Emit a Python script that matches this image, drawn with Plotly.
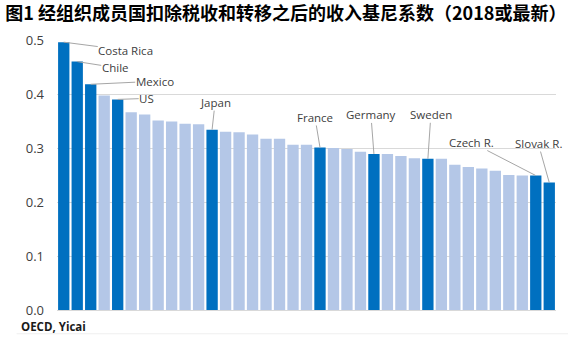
import plotly.graph_objects as go

# Gini coefficient of disposable income (after taxes and transfers), OECD members
gini = [0.496, 0.460, 0.418, 0.397, 0.390, 0.366, 0.362, 0.351, 0.349, 0.345,
        0.344, 0.334, 0.330, 0.329, 0.325, 0.317, 0.317, 0.306, 0.306, 0.301,
        0.300, 0.298, 0.293, 0.289, 0.289, 0.285, 0.281, 0.280, 0.280, 0.269,
        0.265, 0.262, 0.258, 0.250, 0.249, 0.249, 0.236]

# Highlighted countries (bar index -> name)
highlight_names = {0: "Costa Rica", 1: "Chile", 2: "Mexico", 4: "US",
                   11: "Japan", 19: "France", 23: "Germany", 27: "Sweden",
                   35: "Czech R.", 36: "Slovak R."}

y_ticks = [0.0, 0.1, 0.2, 0.3, 0.4, 0.5]
y_ticktext = ["0.0", "0.1", "0.2", "0.3", "0.4", "0.5"]

title_text = "图1 经组织成员国扣除税收和转移之后的收入基尼系数（2018或最新）"
source_text = "OECD, Yicai"

# label offsets (pixels) from the bar top to the label centre
label_offsets = {0: (62, 8), 1: (38, 6), 2: (64, -3), 4: (29, -1),
                 11: (3, -27), 19: (-5, -30), 23: (-3, -39), 27: (3, -44),
                 35: (-64, -33), 36: (-11, -39)}

DARK = "#0070C0"
LIGHT = "#B4C7E7"
TEXT = "#404040"
LEADER = "#A6A6A6"

x = list(range(len(gini)))
colors = [DARK if i in highlight_names else LIGHT for i in x]

fig = go.Figure(go.Bar(
    x=x, y=gini, marker=dict(color=colors, line=dict(width=0)),
    hoverinfo="skip",
))

for i, name in highlight_names.items():
    ax, ay = label_offsets[i]
    fig.add_annotation(
        x=i, y=gini[i], text=name, showarrow=True, arrowhead=0,
        arrowwidth=1, arrowcolor=LEADER, standoff=0, ax=ax, ay=ay,
        borderpad=0,
        font=dict(family="Open Sans, Noto Sans, sans-serif", size=11.5, color=TEXT),
    )

# source note
fig.add_annotation(
    xref="paper", yref="paper", x=-0.075, y=-0.062, xanchor="left",
    yanchor="middle", text="<b>" + source_text + "</b>", showarrow=False,
    borderpad=0,
    font=dict(family="Open Sans, Noto Sans, sans-serif", size=11.5, color="#1A1A1A"),
)

# thin frame line under the note
fig.add_shape(type="line", xref="paper", yref="paper", x0=-0.081, x1=1.024,
              y0=-0.088, y1=-0.088, line=dict(color="#EFEFEF", width=1))

fig.update_layout(
    width=583, height=337,
    margin=dict(l=57, r=27, t=40, b=27),
    paper_bgcolor="white", plot_bgcolor="white",
    bargap=0.16, showlegend=False,
    title=dict(
        text="<b>" + title_text + "</b>", xref="container", yref="container",
        x=0.009, xanchor="left", y=0.958, yanchor="middle",
        font=dict(family="Noto Sans CJK SC", size=18, color="#000000"),
    ),
    xaxis=dict(range=[-0.5, len(gini) - 0.5], showticklabels=False,
               showgrid=False, zeroline=False, showline=True,
               linecolor="#D9D9D9", linewidth=1, fixedrange=True),
    yaxis=dict(range=[0, 0.5], tickvals=y_ticks, ticktext=y_ticktext,
               showgrid=True, gridcolor="#D9D9D9", gridwidth=1,
               zeroline=False, showline=False, ticklabelstandoff=12,
               tickfont=dict(family="Open Sans, Noto Sans, sans-serif",
                             size=13, color=TEXT),
               fixedrange=True),
)

fig.write_html("out.html")
